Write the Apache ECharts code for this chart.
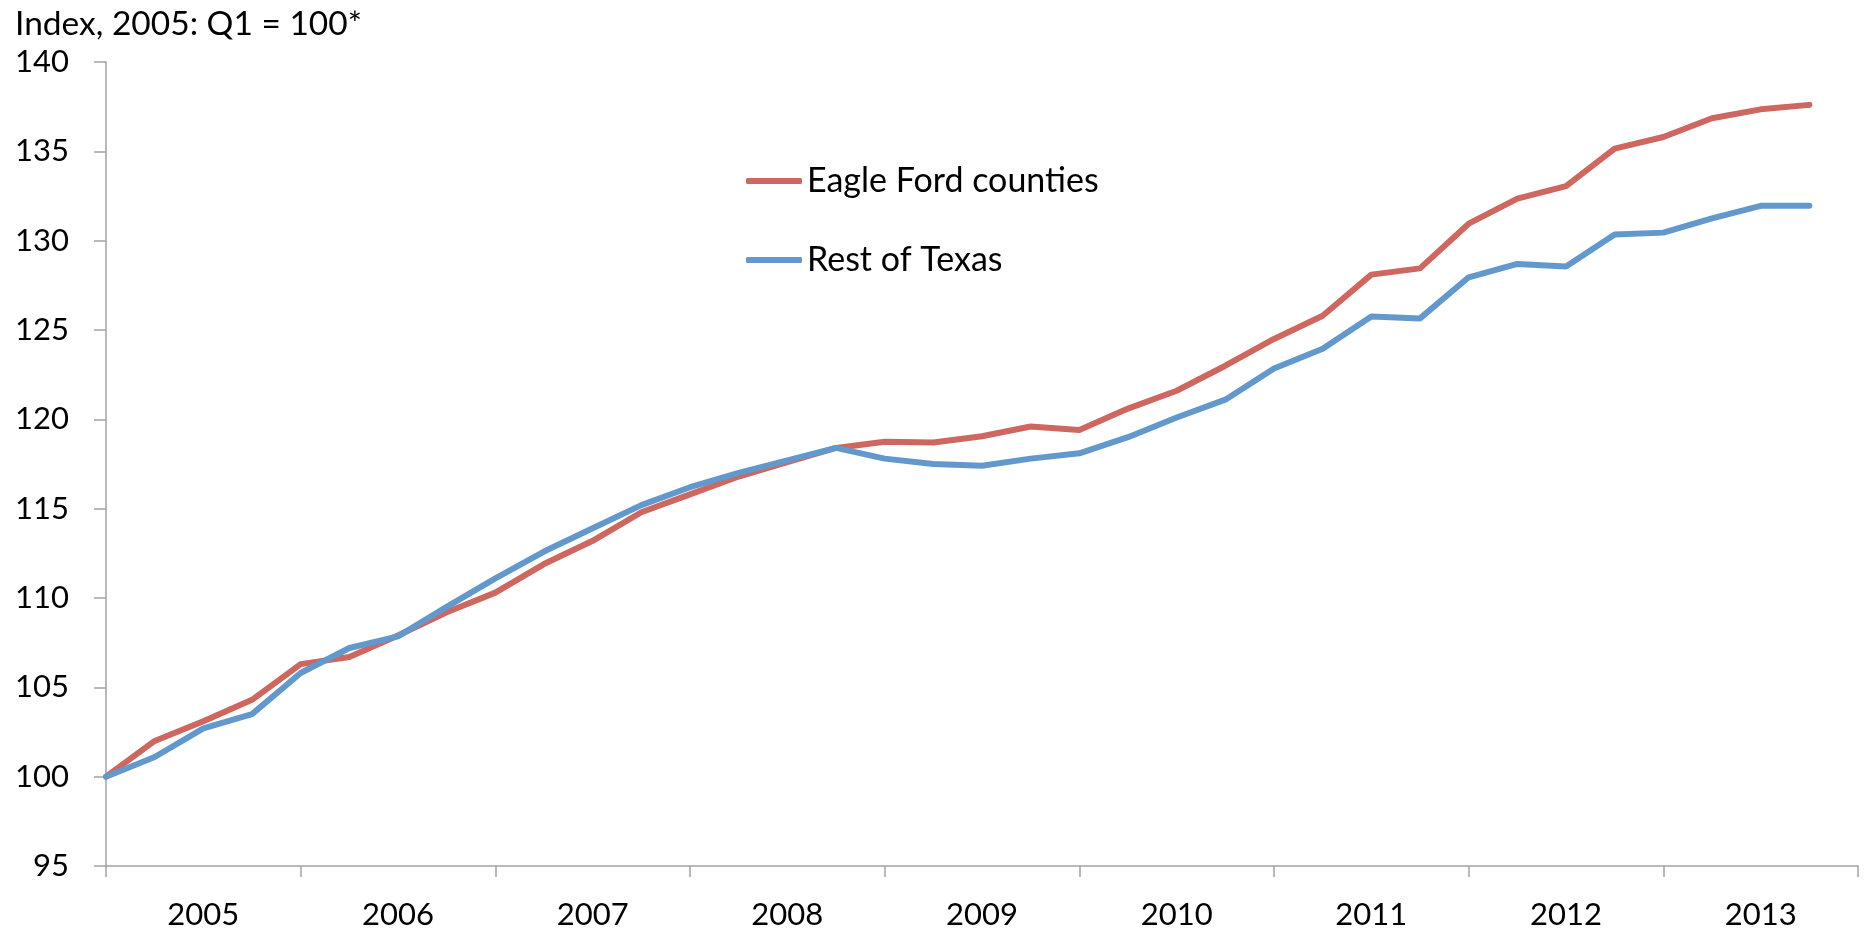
<!DOCTYPE html>
<html>
<head>
<meta charset="utf-8">
<title>Eagle Ford counties vs Rest of Texas</title>
<script src="https://cdn.jsdelivr.net/npm/echarts@6/dist/echarts.min.js"></script>
<style>
  html, body { margin: 0; padding: 0; background: #ffffff; }
  #chart { width: 1867px; height: 932px; }
</style>
</head>
<body>
<div id="chart"></div>
<script>
// quarterly index, 2005 Q1 = 100
const years = ['2005', '2006', '2007', '2008', '2009', '2010', '2011', '2012', '2013']
const quarters = years.flatMap(y => ['Q1', 'Q2', 'Q3', 'Q4'].map(q => y + ' ' + q))

const eagleFord = [
  100.0, 102.0, 103.1, 104.3, 106.3, 106.7, 107.9, 109.2, 110.3, 111.9,
  113.2, 114.8, 115.8, 116.8, 117.6, 118.4, 118.75, 118.7, 119.05, 119.6,
  119.4, 120.6, 121.6, 123.0, 124.5, 125.8, 128.1, 128.45, 130.95, 132.35,
  133.05, 135.15, 135.8, 136.85, 137.35, 137.6
]
const restOfTexas = [
  100.0, 101.1, 102.7, 103.5, 105.8, 107.2, 107.85, 109.5, 111.1, 112.6,
  113.9, 115.2, 116.2, 117.0, 117.7, 118.4, 117.8, 117.5, 117.4, 117.8,
  118.1, 119.0, 120.1, 121.1, 122.85, 123.95, 125.75, 125.65, 127.95, 128.7,
  128.55, 130.35, 130.45, 131.25, 131.95, 131.95
]

const yTicks = { min: 95, max: 140, step: 5 }

const chart = echarts.init(document.getElementById('chart'))

const font = 'Lato, "Open Sans", sans-serif'
const axisGray = '#A3A3A3'

const toPoints = arr => arr.map((v, i) => [i, v])

const option = {
  backgroundColor: '#ffffff',
  animation: false,
  title: {
    text: 'Index, 2005: Q1 = 100*',
    left: 10,
    top: 2,
    textStyle: { fontFamily: font, fontSize: 33.5, fontWeight: 'normal', color: '#000000' }
  },
  legend: {
    orient: 'vertical',
    left: 741,
    top: 158,
    itemWidth: 56,
    itemHeight: 6,
    itemGap: 43,
    icon: 'roundRect',
    textStyle: { fontFamily: font, fontSize: 34, color: '#000000', lineHeight: 36 },
    data: ['Eagle Ford counties', 'Rest of Texas']
  },
  grid: { left: 106, right: 9, top: 62, bottom: 66, containLabel: false },
  xAxis: {
    type: 'value',
    min: 0,
    max: quarters.length,
    splitLine: { show: false },
    axisLine: { lineStyle: { color: axisGray, width: 1.5 } },
    axisTick: {
      show: true,
      length: 11,
      lineStyle: { color: axisGray, width: 1.5 },
      customValues: years.map((y, i) => i * 4).concat([quarters.length])
    },
    axisLabel: {
      fontFamily: font,
      fontSize: 31,
      color: '#000000',
      margin: 33,
      customValues: years.map((y, i) => i * 4 + 2),
      formatter: v => years[Math.round((v - 2) / 4)] || ''
    }
  },
  yAxis: {
    type: 'value',
    min: yTicks.min,
    max: yTicks.max,
    interval: yTicks.step,
    splitLine: { show: false },
    axisLine: { show: true, lineStyle: { color: axisGray, width: 1.5 } },
    axisTick: { show: true, length: 12, lineStyle: { color: axisGray, width: 1.5 } },
    axisLabel: { fontFamily: font, fontSize: 31, color: '#000000', margin: 37 }
  },
  series: [
    {
      name: 'Eagle Ford counties',
      type: 'line',
      data: toPoints(eagleFord),
      symbol: 'none',
      lineStyle: { width: 6, color: '#CD675F', cap: 'round', join: 'round' },
      itemStyle: { color: '#CD675F' },
      z: 2
    },
    {
      name: 'Rest of Texas',
      type: 'line',
      data: toPoints(restOfTexas),
      symbol: 'none',
      lineStyle: { width: 6, color: '#6398CC', cap: 'round', join: 'round' },
      itemStyle: { color: '#6398CC' },
      z: 3
    }
  ]
}

chart.setOption(option)
window.addEventListener('resize', () => chart.resize())
</script>
</body>
</html>
